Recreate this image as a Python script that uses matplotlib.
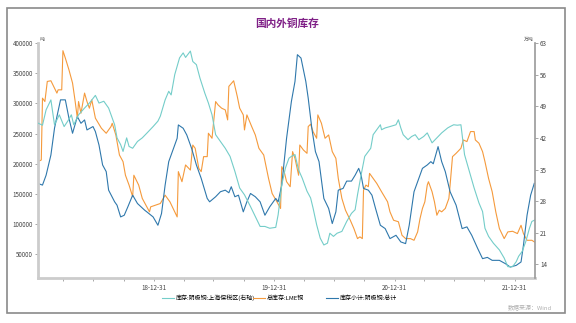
import numpy as np
import pandas as pd
import matplotlib
matplotlib.use('Agg')
from matplotlib import pyplot as plt
from matplotlib.patches import Rectangle

plt.rcParams['font.family'] = ['Noto Sans CJK SC', 'DejaVu Sans']

# 库存小计:阴极铜:总计 (吨, 左轴), 时间为小数年
shfe_t = [2018.03, 2018.07, 2018.10, 2018.14, 2018.17, 2018.19, 2018.22, 2018.26, 2018.29, 2018.32,
          2018.36, 2018.39, 2018.42, 2018.44, 2018.49, 2018.51, 2018.54, 2018.57, 2018.60, 2018.62,
          2018.67, 2018.69, 2018.72, 2018.75, 2018.78, 2018.82, 2018.86, 2018.92, 2018.94, 2018.99,
          2019.03, 2019.06, 2019.09, 2019.12, 2019.16, 2019.19, 2019.20, 2019.24, 2019.27, 2019.31,
          2019.35, 2019.39, 2019.44, 2019.46, 2019.51, 2019.55, 2019.59, 2019.62, 2019.64, 2019.67,
          2019.70, 2019.74, 2019.77, 2019.80, 2019.84, 2019.88, 2019.92, 2019.96, 2020.01, 2020.03,
          2020.06, 2020.10, 2020.14, 2020.17, 2020.19, 2020.22, 2020.26, 2020.28, 2020.31, 2020.34,
          2020.37, 2020.41, 2020.45, 2020.48, 2020.51, 2020.53, 2020.57, 2020.60, 2020.64, 2020.67,
          2020.70, 2020.72, 2020.74, 2020.78, 2020.81, 2020.84, 2020.88, 2020.92, 2020.96, 2021.01,
          2021.05, 2021.09, 2021.12, 2021.16, 2021.19, 2021.23, 2021.27, 2021.30, 2021.32, 2021.36,
          2021.39, 2021.42, 2021.46, 2021.51, 2021.56, 2021.60, 2021.64, 2021.69, 2021.73, 2021.77,
          2021.81, 2021.87, 2021.92, 2021.96, 2022.01, 2022.05, 2022.07, 2022.10, 2022.13, 2022.16]
shfe_total = [167500, 164700, 181000, 214500, 258800, 278000, 305800, 305800, 275500, 250500,
              278000, 267000, 272600, 256000, 261600, 253300, 231000, 198000, 187000, 156300,
              137000, 131400, 112000, 114800, 128700, 148000, 134200, 123100, 120000, 112000,
              98200, 117600, 164700, 203500, 225600, 242200, 264300, 258800, 247700, 225600,
              198000, 175800, 142600, 137000, 145400, 153700, 156300, 152000, 162000, 145400,
              148000, 120400, 137000, 150800, 145400, 137000, 114800, 128700, 142600, 137000,
              164700, 242200, 303000, 336300, 380600, 375000, 336300, 308600, 258800, 220100,
              203500, 142600, 126000, 101000, 120400, 156300, 159200, 171300, 171300, 181000,
              192400, 181000, 159200, 156300, 148000, 126000, 98200, 92700, 76100, 81600,
              70600, 67800, 98200, 153700, 170300, 192400, 198000, 203500, 200000, 228400,
              203500, 187000, 153700, 131400, 92700, 95500, 81600, 59500, 42900, 45000,
              40100, 40100, 34600, 29000, 31800, 37400, 65000, 114800, 148000, 167500]

# 总库存:LME铜 (吨, 左轴)
lme_t = [2018.03, 2018.06, 2018.07, 2018.09, 2018.11, 2018.14, 2018.17, 2018.19, 2018.20, 2018.23,
         2018.24, 2018.26, 2018.29, 2018.32, 2018.34, 2018.36, 2018.37, 2018.39, 2018.42, 2018.44,
         2018.46, 2018.48, 2018.51, 2018.56, 2018.60, 2018.64, 2018.65, 2018.68, 2018.71, 2018.74,
         2018.76, 2018.79, 2018.82, 2018.83, 2018.87, 2018.90, 2018.93, 2018.96, 2018.97, 2019.01,
         2019.05, 2019.09, 2019.13, 2019.17, 2019.19, 2019.20, 2019.23, 2019.26, 2019.30, 2019.32,
         2019.34, 2019.37, 2019.39, 2019.41, 2019.44, 2019.45, 2019.48, 2019.51, 2019.53, 2019.56,
         2019.59, 2019.61, 2019.62, 2019.66, 2019.69, 2019.71, 2019.74, 2019.75, 2019.77, 2019.81,
         2019.84, 2019.87, 2019.91, 2019.95, 2019.98, 2020.02, 2020.05, 2020.06, 2020.08, 2020.10,
         2020.13, 2020.15, 2020.17, 2020.20, 2020.21, 2020.24, 2020.27, 2020.28, 2020.30, 2020.32,
         2020.35, 2020.36, 2020.39, 2020.42, 2020.45, 2020.48, 2020.51, 2020.53, 2020.56, 2020.59,
         2020.63, 2020.66, 2020.69, 2020.71, 2020.73, 2020.74, 2020.76, 2020.78, 2020.79, 2020.82,
         2020.85, 2020.89, 2020.94, 2020.96, 2020.99, 2021.03, 2021.06, 2021.09, 2021.13, 2021.16,
         2021.19, 2021.21, 2021.23, 2021.25, 2021.27, 2021.28, 2021.31, 2021.33, 2021.35, 2021.37,
         2021.39, 2021.42, 2021.45, 2021.46, 2021.48, 2021.51, 2021.55, 2021.57, 2021.60, 2021.63,
         2021.66, 2021.67, 2021.70, 2021.73, 2021.75, 2021.78, 2021.81, 2021.84, 2021.87, 2021.91,
         2021.94, 2021.98, 2022.02, 2022.05, 2022.07, 2022.10, 2022.14, 2022.17]
lme_total = [203500, 206200, 308600, 303000, 336300, 337400, 325300, 317000, 322400, 322400,
             387200, 375000, 355600, 333600, 305800, 275500, 303000, 283700, 317000, 303000,
             292000, 305800, 275500, 258800, 250500, 261600, 267000, 247700, 214500, 203500,
             181000, 164700, 145400, 181000, 164700, 142600, 131400, 120400, 128700, 131400,
             134200, 148000, 137000, 120400, 112000, 187000, 170300, 198000, 189600, 231000,
             225600, 192400, 187000, 211800, 211800, 250500, 242200, 303000, 297500, 292000,
             289200, 272600, 328100, 337400, 311500, 292000, 280900, 256000, 280900, 261600,
             247700, 225600, 214500, 175800, 150800, 137000, 126000, 195200, 187000, 170300,
             162000, 220100, 209000, 181000, 231000, 222800, 217300, 261600, 265500, 253300,
             242200, 280900, 267000, 242200, 247700, 220100, 209000, 175800, 142600, 123100,
             106500, 92700, 76100, 79000, 76100, 156300, 164700, 162000, 184100, 175800,
             167500, 153700, 137000, 120400, 106500, 104000, 81600, 76100, 76100, 73300,
             87200, 109300, 126000, 137000, 164700, 170300, 153700, 137000, 114800, 123100,
             120400, 126000, 142600, 164700, 211800, 217300, 225600, 239400, 236700, 253300,
             253300, 239400, 234000, 220100, 203500, 175800, 153700, 120400, 92700, 76100,
             87200, 88200, 84400, 98200, 84400, 73300, 73300, 69500]

# 库存:阴极铜:上海保税区 (万吨, 右轴)
bonded_t = [2018.03, 2018.07, 2018.10, 2018.14, 2018.17, 2018.21, 2018.25, 2018.28, 2018.31, 2018.33,
            2018.37, 2018.42, 2018.46, 2018.51, 2018.54, 2018.58, 2018.62, 2018.67, 2018.69, 2018.72,
            2018.74, 2018.77, 2018.79, 2018.82, 2018.86, 2018.90, 2018.94, 2018.99, 2019.03, 2019.05,
            2019.09, 2019.12, 2019.14, 2019.17, 2019.21, 2019.24, 2019.26, 2019.30, 2019.32, 2019.35,
            2019.38, 2019.42, 2019.45, 2019.48, 2019.51, 2019.55, 2019.59, 2019.63, 2019.67, 2019.71,
            2019.75, 2019.80, 2019.84, 2019.88, 2019.92, 2019.96, 2020.01, 2020.03, 2020.06, 2020.09,
            2020.12, 2020.14, 2020.17, 2020.20, 2020.23, 2020.27, 2020.30, 2020.32, 2020.35, 2020.38,
            2020.41, 2020.44, 2020.46, 2020.49, 2020.52, 2020.56, 2020.60, 2020.64, 2020.67, 2020.69,
            2020.72, 2020.75, 2020.80, 2020.82, 2020.85, 2020.88, 2020.89, 2020.92, 2020.96, 2021.01,
            2021.03, 2021.05, 2021.07, 2021.11, 2021.14, 2021.17, 2021.20, 2021.24, 2021.27, 2021.31,
            2021.35, 2021.39, 2021.44, 2021.46, 2021.49, 2021.52, 2021.55, 2021.58, 2021.62, 2021.66,
            2021.70, 2021.73, 2021.75, 2021.78, 2021.82, 2021.87, 2021.91, 2021.94, 2021.98, 2022.01,
            2022.03, 2022.06, 2022.09, 2022.12, 2022.14, 2022.17]
bonded = [45.3, 44.8, 48.2, 50.4, 44.9, 47.1, 44.5, 45.7, 47.1, 44.9,
          47.1, 48.6, 49.7, 51.4, 49.7, 50.1, 48.6, 44.9, 42.0, 40.5,
          39.0, 42.0, 40.1, 39.7, 41.2, 42.0, 43.1, 44.5, 45.7, 46.8,
          50.4, 52.3, 51.5, 56.0, 59.7, 60.8, 59.8, 61.2, 58.9, 58.2,
          55.2, 51.9, 49.7, 47.1, 42.7, 41.2, 39.7, 37.9, 34.6, 30.9,
          29.4, 26.8, 24.6, 22.4, 22.4, 22.0, 22.2, 25.0, 31.6, 35.3,
          37.5, 37.9, 38.3, 34.9, 33.1, 30.2, 28.7, 26.5, 22.8, 19.8,
          18.3, 18.7, 20.9, 20.2, 20.9, 21.3, 23.5, 25.3, 26.1, 29.4,
          33.8, 37.9, 39.7, 42.7, 43.8, 44.9, 43.8, 44.2, 44.5, 44.9,
          46.0, 44.2, 42.7, 41.6, 42.3, 42.7, 41.6, 42.3, 43.1, 40.9,
          42.0, 43.1, 44.2, 44.5, 44.9, 44.8, 44.9, 38.3, 34.6, 30.9,
          27.6, 25.7, 22.0, 20.2, 18.7, 17.2, 15.4, 13.5, 13.5, 14.6,
          15.8, 16.9, 19.1, 22.0, 23.5, 23.9]

labels = ['库存:阴极铜:上海保税区(右轴)', '总库存:LME铜', '库存小计:阴极铜:总计']
colors = ['#74cdc9', '#f59a3c', '#2f78ac']
year_ticks = ['2018-12-31', '2019-12-31', '2020-12-31', '2021-12-31']
left_ticks = [50000, 100000, 150000, 200000, 250000, 300000, 350000, 400000]
right_ticks = [14, 21, 28, 35, 42, 49, 56, 63]


def to_dates(t):
    t = np.asarray(t, dtype=float)
    return pd.Timestamp('2018-01-01') + pd.to_timedelta((t - 2018) * 365.25, unit='D')


fig = plt.figure(figsize=(5.76, 3.23), dpi=100)
fig.patches.append(Rectangle((0.012, 0.031), 0.969, 0.944, transform=fig.transFigure,
                             fill=False, ec='#8a8a8a', lw=1.2))
ax = fig.add_axes([0.066, 0.139, 0.863, 0.728])
ax2 = ax.twinx()

l3, = ax2.plot(to_dates(bonded_t), bonded, color=colors[0], lw=0.8)
l1, = ax.plot(to_dates(lme_t), lme_total, color=colors[1], lw=0.8)
l2, = ax.plot(to_dates(shfe_t), shfe_total, color=colors[2], lw=0.8)

ax.set_xlim(pd.Timestamp('2018-01-13'), pd.Timestamp('2022-03-03'))
ax.set_ylim(10700, 400000)
ax2.set_ylim(10.97, 63)
ax.set_yticks(left_ticks)
ax.set_yticklabels([str(v) for v in left_ticks])
ax2.set_yticks(right_ticks)

yt = pd.to_datetime(year_ticks)
ax.set_xticks(yt)
ax.set_xticklabels([d.strftime('%y-%m-%d') for d in yt])
ax.set_xticks(pd.date_range('2018-03-31', '2022-01-01', freq='QE'), minor=True)

for s in ['top', 'right']:
    ax.spines[s].set_visible(False)
for s in ['top', 'left', 'bottom']:
    ax2.spines[s].set_visible(False)
ax.spines['left'].set_color('#cccccc')
ax.spines['left'].set_linewidth(2)
ax.spines['bottom'].set_color('#cccccc')
ax.spines['bottom'].set_linewidth(2)
ax2.spines['right'].set_color('#999999')
ax2.spines['right'].set_linewidth(1.2)

ax.tick_params(axis='y', labelsize=4.5, length=2.5, width=0.6, color='#999999', labelcolor='#444444', pad=1)
ax.tick_params(axis='x', which='both', labelsize=4.5, length=2, width=0.6, color='#999999',
               labelcolor='#444444', pad=2)
ax2.tick_params(axis='y', labelsize=4.5, length=2.5, width=0.6, color='#999999', labelcolor='#444444', pad=1)

ax.text(0.004, 1.005, '吨', transform=ax.transAxes, fontsize=3.5, color='#555555', va='bottom', ha='left')
ax2.text(0.998, 1.005, '万吨', transform=ax2.transAxes, fontsize=3.5, color='#555555', va='bottom', ha='right')

fig.text(0.498, 0.928, '国内外铜库存', ha='center', va='center', fontsize=7.7, fontweight='bold', color='#7f1f86')

# 图例: 三项分别定位
for h, lab, x0 in zip([l3, l1, l2], labels, [0.282, 0.439, 0.566]):
    fig.legend([h], [lab], loc='center left', bbox_to_anchor=(x0, 0.077), frameon=False,
               fontsize=4.3, handlelength=2.0, handletextpad=0.3, borderpad=0, borderaxespad=0)
fig.text(0.958, 0.047, '数据来源：Wind', ha='right', va='center', fontsize=4.3, color='#b0b0b0')

fig.savefig('out.png', dpi=100)
